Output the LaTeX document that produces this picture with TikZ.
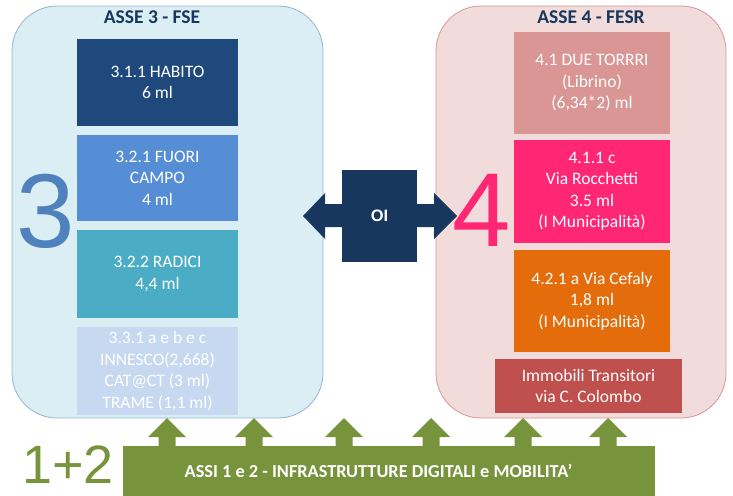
\documentclass[tikz,border=0pt]{standalone}
\usepackage{fontspec}
\setmainfont{Carlito}
\newfontfamily\numfont{Liberation Sans}
\usetikzlibrary{positioning,calc}

\definecolor{fsefill}{RGB}{218,238,243}
\definecolor{fseline}{RGB}{149,179,215}
\definecolor{fesrfill}{RGB}{242,220,219}
\definecolor{fesrline}{RGB}{217,150,148}
\definecolor{navy}{RGB}{23,55,94}
\definecolor{habito}{RGB}{31,73,125}
\definecolor{fuori}{RGB}{85,142,213}
\definecolor{radici}{RGB}{75,172,198}
\definecolor{innesco}{RGB}{198,217,241}
\definecolor{torri}{RGB}{217,150,148}
\definecolor{rocchetti}{RGB}{255,38,116}
\definecolor{cefaly}{RGB}{228,108,10}
\definecolor{colombo}{RGB}{192,80,77}
\definecolor{asse3}{RGB}{79,129,189}
\definecolor{assi}{RGB}{119,147,60}

\begin{document}
\begin{tikzpicture}[x=1pt,y=1pt]
                        \tikzstyle{every node}=[inner sep=0,align=center]
                        \tikzstyle{panel}=[rounded corners=45,line width=0.8]
                        \tikzstyle{title}=[font=\fontsize{19.5}{22}\selectfont\bfseries,text=navy]
                        \tikzstyle{proj}=[text=white,font=\fontsize{17.5}{21.5}\selectfont]
                        \tikzstyle{proj3}=[proj,minimum width=161]
                        \tikzstyle{proj4}=[proj,minimum width=156]
                        \tikzstyle{big}=[font=\numfont\fontsize{105}{105}\selectfont]
                        \useasboundingbox (0,0) rectangle (733,-495);
                        {
                            % assi 3 e 4
                            \draw[panel,fill=fsefill,draw=fseline] (12,-6) rectangle (323,-418);
                            \draw[panel,fill=fesrfill,draw=fesrline] (436,-6) rectangle (726,-418);
                            \node[title] (t3) at (152,-17) {ASSE 3 - FSE};
                            \node[title] (t4) at (591,-17) {ASSE 4 - FESR};

                            \node[proj3,fill=habito,minimum height=87] (p311) at (157.5,-82.5) {3.1.1 HABITO\\6 ml};
                            \node[proj3,fill=fuori,minimum height=86] (p321) at (157.5,-178) {3.2.1 FUORI\\CAMPO\\4 ml};
                            \node[proj3,fill=radici,minimum height=88] (p322) at (157.5,-274) {3.2.2 RADICI\\4,4 ml};
                            \node[proj3,fill=innesco,minimum height=88] (p331) at (157.5,-371) {3.3.1 a e b e c\\INNESCO(2,668)\\CAT@CT (3 ml)\\TRAME (1,1 ml)};

                            \node[proj4,fill=torri,minimum height=102] (p41) at (592,-83) {4.1 DUE TORRRI\\(Librino)\\(6,34*2) ml};
                            \node[proj4,fill=rocchetti,minimum height=103] (p411) at (592,-191.5) {4.1.1 c\\Via Rocchetti\\3.5 ml\\(I Municipalità)};
                            \node[proj4,fill=cefaly,minimum height=102] (p421) at (592,-301) {4.2.1 a Via Cefaly\\1,8 ml\\(I Municipalità)};
                            \node[proj,fill=colombo,minimum width=187,minimum height=54] (pit) at (588.5,-386) {Immobili Transitori\\via C. Colombo};

                            \node[big,text=asse3] (n3) at (46,-211) {3};
                            \node[big,text=rocchetti] (n4) at (482,-210) {4};

                            % OI
                            \fill[navy] (303,-216) -- (325,-193) -- (325,-204) -- (434,-204) -- (434,-193)
                                -- (457,-216) -- (434,-239) -- (434,-227) -- (325,-227) -- (325,-239) -- cycle;
                            \node[fill=navy,minimum width=75,minimum height=92,text=white,
                                font=\numfont\fontsize{16.5}{16.5}\selectfont\bfseries] (oi) at (379.5,-216) {OI};

                            % assi 1 e 2
                            \node[fill=assi,minimum width=532,minimum height=50] (infra) at (389,-471) {};
                            \node[text=white,font=\fontsize{18.3}{20}\selectfont\bfseries] (infratxt) at (378.5,-471)
                                {ASSI 1 e 2 - INFRASTRUTTURE DIGITALI e MOBILITA’};
                            \foreach \a in {167,254,344,431,523,608} {
                                \fill[assi] (\a,-418) -- (\a+19,-437) -- (\a+8.5,-437) -- (\a+8.5,-447)
                                    -- (\a-8.5,-447) -- (\a-8.5,-437) -- (\a-19,-437) -- cycle;
                            }
                            \node[font=\numfont\fontsize{54}{54}\selectfont,text=assi] (n12) at (68,-465) {1+2};
                        }
                    \end{tikzpicture}
\end{document}
